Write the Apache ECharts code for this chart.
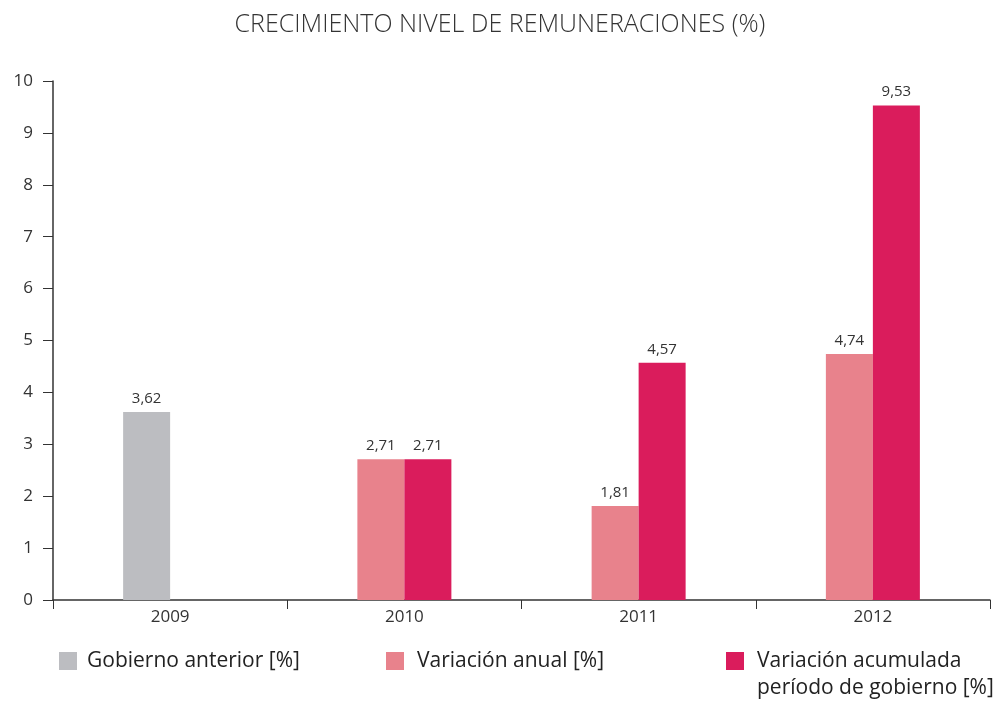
<!DOCTYPE html>
<html lang="es">
<head>
    <meta charset="UTF-8">
    <title>Crecimiento nivel de remuneraciones</title>
    <script src="https://cdn.jsdelivr.net/npm/echarts@6/dist/echarts.min.js"></script>
    <style>
        html, body { margin: 0; padding: 0; background: #fff; }
        #chart { width: 1000px; height: 704px; }
    </style>
</head>
<body>
<div id="chart"></div>
<script type="text/javascript">
    const years = ['2009', '2010', '2011', '2012'];
    const gobiernoAnterior = [3.62, null, null, null];
    const variacionAnual = [null, 2.71, 1.81, 4.74];
    const variacionAcumulada = [null, 2.71, 4.57, 9.53];

    const font = 'Open Sans';
    let chart = echarts.init(document.getElementById('chart'));

    function valueLabel(p) {
        return p.value.toFixed(2).replace('.', ',');
    }

    let labelStyle = {
        show: true,
        position: 'top',
        distance: 6,
        color: '#333',
        fontSize: 15,
        fontFamily: font,
        formatter: valueLabel
    };

    // one legend per item so each can sit where it does in the original
    function legendAt(left, gap, name) {
        return {
            left: left,
            top: 647,
            padding: 0,
            data: [name],
            itemWidth: 18,
            itemHeight: 18,
            selectedMode: false,
            icon: 'rect',
            textStyle: {
                fontSize: 21,
                fontFamily: font,
                color: '#222',
                lineHeight: 28,
                padding: [0, 0, 0, gap]
            }
        };
    }

    chart.setOption({
        animation: false,
        title: {
            text: 'CRECIMIENTO NIVEL DE REMUNERACIONES (%)',
            left: 'center',
            top: 7,
            textStyle: {
                fontSize: 25,
                fontWeight: 300,
                fontFamily: font,
                color: '#333'
            }
        },
        legend: [
            legendAt(59, 5, 'Gobierno anterior [%]'),
            legendAt(386, 8, 'Variación anual [%]'),
            legendAt(726, 8, 'Variación acumulada')
        ],
        graphic: [{
            type: 'text',
            left: 757,
            top: 678,
            style: {
                text: 'período de gobierno [%]',
                fontSize: 21,
                fontFamily: font,
                fill: '#222'
            }
        }],
        grid: {
            left: 53,
            right: 10,
            top: 81,
            bottom: 104
        },
        xAxis: {
            type: 'category',
            data: years,
            axisLine: {lineStyle: {color: '#333', width: 1.5}},
            axisTick: {show: true, length: 9, lineStyle: {color: '#333'}},
            axisLabel: {
                margin: 9,
                fontSize: 17,
                fontFamily: font,
                color: '#333'
            }
        },
        yAxis: {
            type: 'value',
            min: 0,
            max: 10,
            interval: 1,
            splitLine: {show: false},
            axisLine: {show: true, lineStyle: {color: '#333', width: 1.5}},
            axisTick: {show: true, length: 10, lineStyle: {color: '#333'}},
            axisLabel: {
                margin: 20,
                fontSize: 17,
                fontFamily: font,
                color: '#333'
            }
        },
        series: [
            {
                name: 'Gobierno anterior [%]',
                type: 'bar',
                stack: 'a',
                barWidth: 47,
                barGap: '0%',
                data: gobiernoAnterior,
                itemStyle: {color: '#bcbdc1'},
                label: labelStyle
            },
            {
                name: 'Variación anual [%]',
                type: 'bar',
                stack: 'a',
                barWidth: 47,
                barGap: '0%',
                data: variacionAnual,
                itemStyle: {color: '#e8828c'},
                label: labelStyle
            },
            {
                name: 'Variación acumulada',
                type: 'bar',
                barWidth: 47,
                barGap: '0%',
                data: variacionAcumulada,
                itemStyle: {color: '#da1c5c'},
                label: labelStyle
            }
        ]
    });
</script>
</body>
</html>
